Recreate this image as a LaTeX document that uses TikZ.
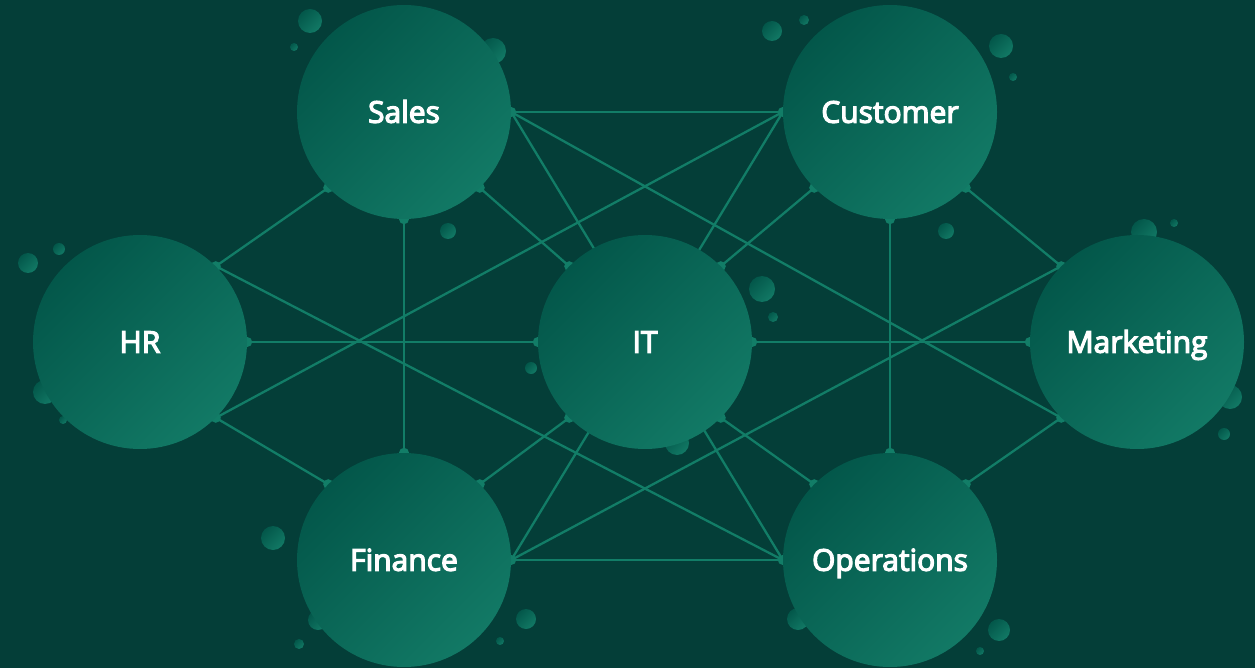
\documentclass[tikz,border=0pt]{standalone}
\usepackage{fontspec}
\newfontfamily\lab{Open Sans}[FakeBold=4]
\definecolor{bgc}{HTML}{043E38}
\definecolor{linec}{HTML}{127D67}
\definecolor{cdark}{HTML}{03574A}
\definecolor{clight}{HTML}{127965}
\pgfdeclarelayer{bglayer}
\pgfdeclarelayer{edgelayer}
\pgfsetlayers{bglayer,edgelayer,main}
\tikzset{
  hub/.style={circle, minimum size=214pt, inner sep=0pt,
    top color=cdark, bottom color=clight, shading angle=45,
    text=white, font=\lab\fontsize{30}{36}\selectfont,
    text height=21.5pt, text depth=0pt},
  link/.style={draw=linec, line width=2.3pt},
  bubble/.style={top color=cdark, bottom color=clight, shading angle=45},
  knob/.style={fill=linec},
}
\begin{document}
\begin{tikzpicture}[x=1pt,y=-1pt]
\useasboundingbox (0,0) rectangle (1255,668);
\begin{pgfonlayer}{bglayer}
  \fill[bgc] (0,0) rectangle (1255,668);
  \foreach \x/\y/\r in {310/21/12,294/47/4,493/51/13,448/231/8,772/31/10,804/20/5,1001/46/12,1013/77/4,946/231/8,762/289/13,773/317/5,1144/232/13,1174/223/4,1230/397/12,1224/434/6,28/263/10,59/249/6,45/392/12,63/420/4,531/368/6,677/443/12,273/538/12,318/620/10,299/644/5,526/619/10,500/641/4,798/619/11,999/630/11,980/651/4}
    \shade[bubble] (\x,\y) circle (\r pt);
\end{pgfonlayer}

\node[hub] (sales) at (404,112) {Sales};
\node[hub] (customer) at (890,112) {Customer};
\node[hub] (hr) at (140,342) {HR};
\node[hub] (it) at (645,342) {IT};
\node[hub] (marketing) at (1137,342) {Marketing};
\node[hub] (finance) at (404,560) {Finance};
\node[hub] (operations) at (890,560) {Operations};

\begin{pgfonlayer}{edgelayer}
  \foreach \a/\b in {sales.east/customer.west, sales.east/operations.west, sales.east/marketing.-135,
      sales.-45/it.135, sales.south/finance.north, sales.-135/hr.45,
      customer.west/finance.east, customer.west/hr.-45, customer.-135/it.45,
      customer.south/operations.north, customer.-45/marketing.135,
      hr.45/operations.west, hr.east/it.west, hr.-45/finance.135,
      marketing.135/finance.east, marketing.west/it.east, marketing.-135/operations.45,
      it.-135/finance.45, it.-45/operations.135, finance.east/operations.west}
    \draw[link] (\a) -- (\b);
  \foreach \p in {sales.east, sales.-45, sales.south, sales.-135,
      customer.west, customer.-135, customer.south, customer.-45,
      hr.45, hr.east, hr.-45, marketing.135, marketing.west, marketing.-135,
      it.135, it.45, it.west, it.east, it.-135, it.-45,
      finance.north, finance.135, finance.45, finance.east,
      operations.west, operations.north, operations.135, operations.45}
    \fill[knob] (\p) circle (5pt);
\end{pgfonlayer}
\end{tikzpicture}
\end{document}
